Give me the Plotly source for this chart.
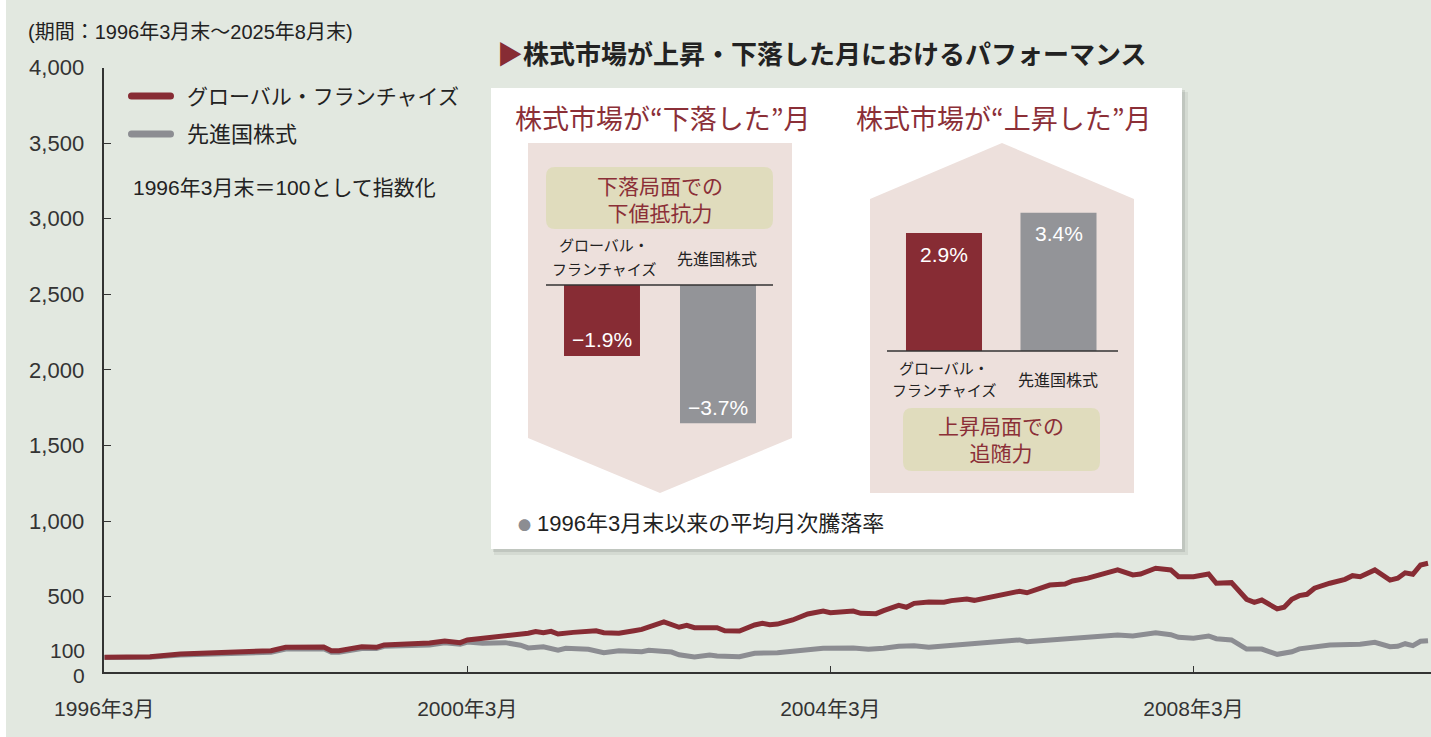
import plotly.graph_objects as go

# ---------------- data ----------------
red_dates = ["1996-03","1996-07","1996-09","1997-01","1997-04","1997-07","1997-10","1998-01","1998-03","1998-07",
             "1998-08","1998-09","1998-10","1999-01","1999-03","1999-04","1999-08","1999-10","1999-12","2000-02",
             "2000-03","2000-06","2000-09","2000-11","2000-12","2001-01","2001-02","2001-03","2001-05","2001-08",
             "2001-09","2001-10","2001-11","2002-01","2002-02","2002-05","2002-07","2002-08","2002-09","2002-12",
             "2003-01","2003-03","2003-05","2003-06","2003-07","2003-08","2003-10","2003-12","2004-02","2004-03",
             "2004-06","2004-07","2004-09","2004-10","2004-12","2005-01","2005-02","2005-04","2005-06","2005-07",
             "2005-09","2005-10","2006-01","2006-04","2006-05","2006-06","2006-08","2006-10","2006-11","2007-01",
             "2007-03","2007-05","2007-07","2007-08","2007-10","2007-12","2008-01","2008-03","2008-05","2008-06",
             "2008-08","2008-10","2008-11","2008-12","2009-02","2009-03","2009-04","2009-05","2009-06","2009-07",
             "2009-09","2009-11","2009-12","2010-01","2010-03","2010-05","2010-06","2010-07","2010-08","2010-09",
             "2010-10"]
red_values = [100, 99, 103, 121, 126, 134, 132, 143, 165, 169,
              167, 143, 143, 169, 165, 181, 187, 194, 207, 196,
              214, 231, 240, 258, 269, 262, 271, 253, 264, 275,
              262, 258, 258, 275, 284, 333, 298, 311, 295, 295,
              275, 273, 313, 324, 314, 319, 346, 386, 405, 394,
              405, 390, 388, 408, 443, 430, 456, 465, 463, 474,
              485, 476, 509, 536, 526, 544, 577, 584, 604, 623,
              647, 677, 644, 650, 688, 677, 632, 632, 650, 589,
              593, 483, 463, 478, 419, 430, 483, 507, 516, 556,
              589, 615, 639, 632, 677, 610, 622, 658, 648, 710,
              721]

gray_dates = ["1996-03","1996-07","1996-09","1997-01","1997-04","1997-07","1997-10","1998-01","1998-03","1998-07",
              "1998-08","1998-09","1998-10","1999-01","1999-03","1999-04","1999-08","1999-10","1999-12","2000-02",
              "2000-03","2000-05","2000-08","2000-10","2000-11","2001-01","2001-03","2001-04","2001-07","2001-09",
              "2001-11","2002-02","2002-03","2002-06","2002-07","2002-09","2002-11","2002-12","2003-03","2003-04",
              "2003-05","2003-08","2003-12","2004-02","2004-06","2004-08","2004-10","2004-12","2005-02","2005-04",
              "2005-06","2005-09","2005-12","2006-04","2006-05","2006-08","2006-11","2007-01","2007-03","2007-05",
              "2007-07","2007-10","2007-12","2008-01","2008-03","2008-05","2008-06","2008-08","2008-10","2008-12",
              "2009-02","2009-04","2009-05","2009-09","2010-01","2010-03","2010-05","2010-06","2010-07","2010-08",
              "2010-09","2010-10"]
gray_values = [98, 96, 99, 114, 118, 126, 123, 133, 154, 158,
               156, 132, 133, 158, 157, 172, 178, 180, 196, 185,
               200, 192, 196, 179, 161, 169, 147, 159, 152, 130,
               143, 136, 145, 134, 116, 101, 114, 108, 103, 116,
               126, 130, 152, 159, 161, 152, 159, 172, 176, 165,
               174, 185, 196, 214, 202, 212, 229, 232, 235, 247,
               240, 262, 249, 231, 225, 240, 222, 214, 154, 154,
               119, 136, 155, 181, 185, 198, 169, 172, 189, 176,
               205, 209]

series_names = ["グローバル・フランチャイズ", "先進国株式"]

y_tickvals = [500, 1000, 1500, 2000, 2500, 3000, 3500, 4000]
y_ticktext = ["500", "1,000", "1,500", "2,000", "2,500", "3,000", "3,500", "4,000"]
y_extra_labels = [(100, "100"), (0, "0")]
x_tickvals = ["1996-03-01", "2000-03-01", "2004-03-01", "2008-03-01"]
x_ticktext = ["1996年3月", "2000年3月", "2004年3月", "2008年3月"]

bar_categories = ["グローバル・フランチャイズ", "先進国株式"]
down_values = [-1.9, -3.7]
up_values = [2.9, 3.4]

# ---------------- style ----------------
W, H = 1431, 737
FONT = "Liberation Sans, Noto Sans CJK JP, sans-serif"
JFONT = "Noto Sans CJK JP, sans-serif"
NARROW = "Liberation Sans Narrow, Liberation Sans, sans-serif"
RED = "#872c34"
GRAY = "#8c8d92"
BARGRAY = "#939498"
DARKRED_TXT = "#8b2f37"
BG = "#e2e8e0"
PINK = "#ede0dc"
KHAKI = "#e0dcbd"


def px(x):
    return x / W


def py(y):
    return 1 - y / H


def path(points):
    return "M " + " L ".join(f"{px(a):.5f},{py(b):.5f}" for a, b in points) + " Z"


def rrect(x0, y0, x1, y1, r):
    pts = [
        f"M {px(x0 + r):.5f},{py(y0):.5f}",
        f"L {px(x1 - r):.5f},{py(y0):.5f}",
        f"Q {px(x1):.5f},{py(y0):.5f} {px(x1):.5f},{py(y0 + r):.5f}",
        f"L {px(x1):.5f},{py(y1 - r):.5f}",
        f"Q {px(x1):.5f},{py(y1):.5f} {px(x1 - r):.5f},{py(y1):.5f}",
        f"L {px(x0 + r):.5f},{py(y1):.5f}",
        f"Q {px(x0):.5f},{py(y1):.5f} {px(x0):.5f},{py(y1 - r):.5f}",
        f"L {px(x0):.5f},{py(y0 + r):.5f}",
        f"Q {px(x0):.5f},{py(y0):.5f} {px(x0 + r):.5f},{py(y0):.5f}",
        "Z",
    ]
    return " ".join(pts)


def fmt_pct(v):
    s = f"{abs(v):.1f}%"
    return ("−" + s) if v < 0 else s


fig = go.Figure()

# main lines
fig.add_trace(go.Scatter(x=[d + "-01" for d in gray_dates], y=gray_values, mode="lines",
                         line=dict(color=GRAY, width=5), name=series_names[1], xaxis="x", yaxis="y"))
fig.add_trace(go.Scatter(x=[d + "-01" for d in red_dates], y=red_values, mode="lines",
                         line=dict(color=RED, width=5), name=series_names[0], xaxis="x", yaxis="y"))

# bar charts
fig.add_trace(go.Bar(x=[0, 1], y=down_values, width=0.655, marker=dict(color=[RED, BARGRAY], line=dict(width=0)),
                     xaxis="x2", yaxis="y2", hovertext=bar_categories))
fig.add_trace(go.Bar(x=[0, 1], y=up_values, width=0.664, marker=dict(color=[RED, BARGRAY], line=dict(width=0)),
                     xaxis="x3", yaxis="y3", hovertext=bar_categories))

shapes = [
    # white strip at the left edge
    dict(type="rect", xref="paper", yref="paper", x0=0, x1=px(6), y0=0, y1=1,
         fillcolor="white", line=dict(width=0), layer="below"),
    # panel shadow + panel
    dict(type="rect", xref="paper", yref="paper", x0=px(494), x1=px(1188), y0=py(555), y1=py(92),
         fillcolor="rgba(0,0,0,0.06)", line=dict(width=0), layer="below"),
    dict(type="rect", xref="paper", yref="paper", x0=px(493), x1=px(1185), y0=py(552), y1=py(90),
         fillcolor="rgba(0,0,0,0.09)", line=dict(width=0), layer="below"),
    dict(type="rect", xref="paper", yref="paper", x0=px(491), x1=px(1182), y0=py(549), y1=py(88),
         fillcolor="white", line=dict(width=0), layer="below"),
    # pink shapes
    dict(type="path", xref="paper", yref="paper",
         path=path([(528, 143), (792, 143), (792, 438), (660, 493), (528, 438)]),
         fillcolor=PINK, line=dict(width=0), layer="below"),
    dict(type="path", xref="paper", yref="paper",
         path=path([(1002, 143), (1134, 199), (1134, 493), (870, 493), (870, 199)]),
         fillcolor=PINK, line=dict(width=0), layer="below"),
    # khaki boxes
    dict(type="path", xref="paper", yref="paper", path=rrect(546, 167, 773, 229, 9),
         fillcolor=KHAKI, line=dict(width=0), layer="below"),
    dict(type="path", xref="paper", yref="paper", path=rrect(903, 408, 1100, 471, 9),
         fillcolor=KHAKI, line=dict(width=0), layer="below"),
    # bar baselines
    dict(type="line", xref="paper", yref="paper", x0=px(546), x1=px(773), y0=py(285), y1=py(285),
         line=dict(color="#333333", width=1.5)),
    dict(type="line", xref="paper", yref="paper", x0=px(887), x1=px(1118), y0=py(351), y1=py(351),
         line=dict(color="#333333", width=1.5)),
    # legend swatches (rounded)
    dict(type="path", xref="paper", yref="paper", path=rrect(128, 92.5, 174, 99.5, 3.5),
         fillcolor=RED, line=dict(width=0)),
    dict(type="path", xref="paper", yref="paper", path=rrect(128, 130.5, 174, 137.5, 3.5),
         fillcolor=GRAY, line=dict(width=0)),
]


def ann(text, x, y, size, color="#222222", xanchor="center", family=FONT, **kw):
    return dict(text=text, x=px(x), y=py(y), xref="paper", yref="paper", xanchor=xanchor, yanchor="middle",
                showarrow=False, font=dict(size=size, color=color, family=family), **kw)


annotations = [
    ann("(期間：1996年3月末～2025年8月末)", 26, 32, 20, xanchor="left"),
    ann(series_names[0], 185, 97, 21, xanchor="left"),
    ann(series_names[1], 185, 134, 22, xanchor="left"),
    ann("1996年3月末＝100として指数化", 131, 188, 21, xanchor="left"),
    ann(f"<span style='color:{RED}'>▶</span><b>株式市場が上昇・下落した月におけるパフォーマンス</b>", 495, 52, 26,
        xanchor="left", family=JFONT),
    ann("株式市場が“下落した”月", 663, 117, 27, color=DARKRED_TXT, family=JFONT),
    ann("株式市場が“上昇した”月", 1004, 117, 27, color=DARKRED_TXT, family=JFONT),
    ann("下落局面での<br>下値抵抗力", 660, 198, 21, color=DARKRED_TXT, family=JFONT),
    ann("上昇局面での<br>追随力", 1001, 439, 21, color=DARKRED_TXT, family=JFONT),
    ann("グローバル・", 604, 245, 15, family=JFONT),
    ann("フランチャイズ", 604, 268, 15, family=JFONT),
    ann("先進国株式", 717, 258, 16, family=JFONT),
    ann("グローバル・", 944, 367, 15, family=JFONT),
    ann("フランチャイズ", 944, 389, 15, family=JFONT),
    ann("先進国株式", 1058, 379, 16, family=JFONT),
    ann("●", 524, 524, 13, color="#8c8d92", family=JFONT),
    ann("1996年3月末以来の平均月次騰落率", 535, 523, 22, xanchor="left"),
]

# extra y labels (100 and 0) placed via the y-axis scale, without tick marks
for val, lab in y_extra_labels:
    annotations.append(dict(text=lab, x=px(87), xref="paper", y=val, yref="y", xanchor="right",
                            yanchor="middle", yshift=(7 if val == 100 else -3), showarrow=False,
                            font=dict(size=21, color="#333333", family=FONT)))

# bar value labels placed through the bar axes
for i, v in enumerate(down_values):
    annotations.append(dict(text=fmt_pct(v), x=i, y=v, xref="x2", yref="y2", yanchor="middle",
                            yshift=16, showarrow=False,
                            font=dict(size=21, color="white", family=NARROW)))
for i, v in enumerate(up_values):
    annotations.append(dict(text=fmt_pct(v), x=i, y=v, xref="x3", yref="y3", yanchor="middle",
                            yshift=-21, showarrow=False,
                            font=dict(size=21, color="white", family=NARROW)))

fig.update_layout(
    width=W, height=H, margin=dict(l=0, r=0, t=0, b=0, pad=0), autosize=False,
    paper_bgcolor=BG, plot_bgcolor="rgba(0,0,0,0)", showlegend=False,
    font=dict(family=FONT, color="#333333"),
    shapes=shapes, annotations=annotations,
    xaxis=dict(domain=[px(104.3), 1], type="date", range=["1996-03-01", "2010-10-13"], automargin=False,
               showline=True, linecolor="#333333", linewidth=1.5, ticks="inside", ticklen=7,
               tickcolor="#333333", tickwidth=1, tickvals=x_tickvals, ticktext=x_ticktext,
               tickfont=dict(size=21, color="#333333"), showgrid=False, zeroline=False,
               ticklabelstandoff=17),
    yaxis=dict(domain=[py(672.3), py(67.5)], range=[0, 4000], automargin=False, showline=True,
               linecolor="#333333", linewidth=1.5, ticks="inside", ticklen=7, tickcolor="#333333", tickwidth=1,
               tickvals=y_tickvals, ticktext=y_ticktext, tickfont=dict(size=22, color="#333333"),
               showgrid=False, zeroline=False, ticklabelstandoff=14),
    xaxis2=dict(domain=[px(544), px(776)], range=[-0.5, 1.5], visible=False, anchor="y2", automargin=False),
    yaxis2=dict(domain=[py(434.4), py(285)], range=[-4, 0], visible=False, anchor="x2", automargin=False),
    xaxis3=dict(domain=[px(886.75), px(1115.75)], range=[-0.5, 1.5], visible=False, anchor="y3", automargin=False),
    yaxis3=dict(domain=[py(351), py(208.7)], range=[0, 3.5], visible=False, anchor="x3", automargin=False),
)

fig.write_html("out.html", config={"displayModeBar": False},
               post_script="document.body.style.margin='0';document.body.style.overflow='hidden';")
